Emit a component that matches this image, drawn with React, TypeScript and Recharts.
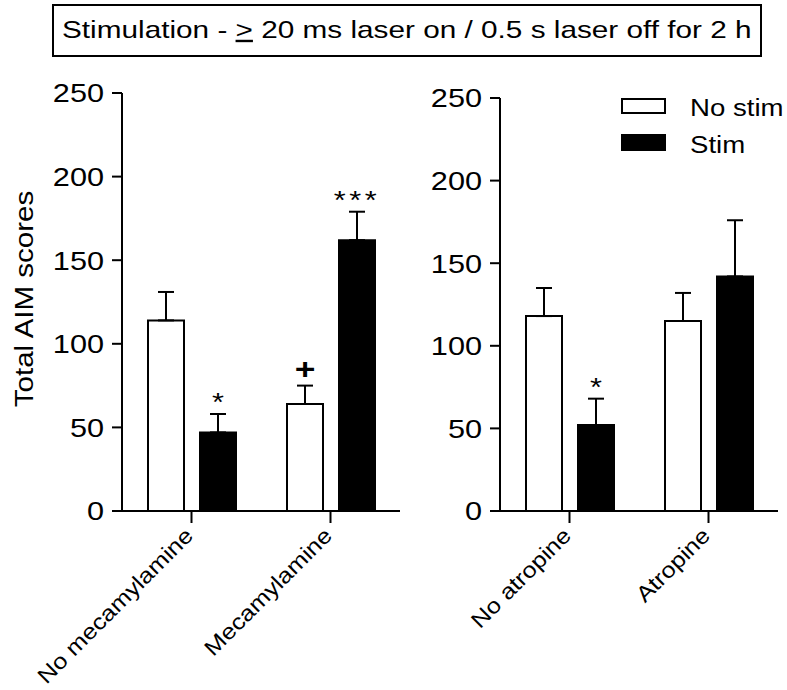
import React from 'react';
import { BarChart, Bar, XAxis, YAxis, ErrorBar, LabelList, Legend, Label } from 'recharts';

const FONT = '"Liberation Sans", Arial, Helvetica, sans-serif';
const WIDE = 1.18; // source text is a little wider than Arial

// --- data ---
const yTicks = [0, 50, 100, 150, 200, 250];
const seriesNames = ['No stim', 'Stim'];

const leftGroups = ['No mecamylamine', 'Mecamylamine'];
const leftNoStim = [114, 64];
const leftNoStimErr = [17, 11];
const leftStim = [47, 162];
const leftStimErr = [11, 17];
const leftNoStimMarks = ['', '+'];
const leftStimMarks = ['*', '***'];

const rightGroups = ['No atropine', 'Atropine'];
const rightNoStim = [118, 115];
const rightNoStimErr = [17, 17];
const rightStim = [52, 142];
const rightStimErr = [16, 34];
const rightNoStimMarks = ['', ''];
const rightStimMarks = ['*', ''];

const buildRows = (groups: string[], noStim: number[], noStimErr: number[], stim: number[], stimErr: number[]) =>
  groups.map((g, i) => ({
    group: g,
    noStim: noStim[i],
    noStimErr: [0, noStimErr[i]],
    stim: stim[i],
    stimErr: [0, stimErr[i]],
  }));

const YTick = ({ x, y, payload }: any) => (
  <g transform={`translate(${x},${y})`}>
    <text transform={`scale(${WIDE},1)`} textAnchor="end" dy="0.36em" fontSize={26} fontFamily={FONT} fill="#000">
      {payload.value}
    </text>
  </g>
);

const XTick = ({ x, y, payload }: any) => (
  <g transform={`translate(${x + 3},${y + 12}) rotate(-45)`}>
    <text transform="scale(1.15,1)" textAnchor="end" fontSize={22} fontFamily={FONT} fill="#000">
      {payload.value}
    </text>
  </g>
);

// significance marks sit just above the error bar cap
const markLabel = (values: number[], errs: number[], marks: string[]) => (props: any) => {
  const { x, y, width, height, index } = props;
  const mark = marks[index];
  if (!mark) return null;
  const errTop = y - (errs[index] / values[index]) * height;
  const isPlus = mark === '+';
  return (
    <g transform={`translate(${x + width / 2},${errTop - (isPlus ? 7 : 3)})`}>
      <text
        transform={`scale(${WIDE},1)`}
        textAnchor="middle"
        fontSize={isPlus ? 30 : 26}
        fontWeight={isPlus ? 'bold' : 'normal'}
        letterSpacing={mark.length > 1 ? 3 : 0}
        fontFamily={FONT}
        fill="#000"
      >
        {mark}
      </text>
    </g>
  );
};

const LegendBox = () => (
  <svg width={169} height={70}>
    <rect x={4} y={7} width={43} height={14} fill="#fff" stroke="#000" strokeWidth={2} />
    <rect x={4} y={43} width={43} height={15} fill="#000" stroke="#000" strokeWidth={2} />
    <g transform="translate(72,24)">
      <text transform="scale(1.15,1)" fontSize={24} fontFamily={FONT} fill="#000">{seriesNames[0]}</text>
    </g>
    <g transform="translate(72,61)">
      <text transform="scale(1.15,1)" fontSize={24} fontFamily={FONT} fill="#000">{seriesNames[1]}</text>
    </g>
  </svg>
);

const YTitle = ({ viewBox }: any) => (
  <g transform={`translate(${viewBox.x + 33},${viewBox.y + viewBox.height / 2 - 3}) rotate(-90)`}>
    <text transform={`scale(${WIDE},1)`} textAnchor="middle" fontSize={25} fontFamily={FONT} fill="#000">
      Total AIM scores
    </text>
  </g>
);

type PanelProps = {
  groups: string[];
  noStim: number[];
  noStimErr: number[];
  stim: number[];
  stimErr: number[];
  noStimMarks: string[];
  stimMarks: string[];
  left: number;
  width: number;
  top: number;
  right: number;
  axisWidth: number;
  yTitle?: boolean;
  legend?: boolean;
};

function Panel(p: PanelProps) {
  const rows = buildRows(p.groups, p.noStim, p.noStimErr, p.stim, p.stimErr);
  return (
    <div style={{ position: 'absolute', left: p.left, top: 0 }}>
      <BarChart
        width={p.width}
        height={690}
        data={rows}
        margin={{ top: p.top, right: p.right, left: 0, bottom: 0 }}
        barSize={36}
        barGap={16}
      >
        <XAxis
          dataKey="group"
          height={179}
          axisLine={{ stroke: '#000', strokeWidth: 2 }}
          tickLine={{ stroke: '#000', strokeWidth: 2 }}
          tickSize={12}
          tick={<XTick />}
          interval={0}
        />
        <YAxis
          width={p.axisWidth}
          domain={[0, 250]}
          ticks={yTicks}
          axisLine={{ stroke: '#000', strokeWidth: 2 }}
          tickLine={{ stroke: '#000', strokeWidth: 2 }}
          tickSize={10}
          tickMargin={8}
          tick={<YTick />}
        >
          {p.yTitle && <Label content={<YTitle />} />}
        </YAxis>
        {p.legend && (
          <Legend
            layout="vertical"
            align="center"
            verticalAlign="middle"
            content={<LegendBox />}
            wrapperStyle={{ left: 218, top: 92, width: 169, height: 70 }}
          />
        )}
        <Bar dataKey="noStim" name={seriesNames[0]} fill="#fff" stroke="#000" strokeWidth={2} isAnimationActive={false}>
          <ErrorBar dataKey="noStimErr" direction="y" width={8} stroke="#000" strokeWidth={2} />
          <LabelList content={markLabel(p.noStim, p.noStimErr, p.noStimMarks)} />
        </Bar>
        <Bar dataKey="stim" name={seriesNames[1]} fill="#000" stroke="#000" strokeWidth={2} isAnimationActive={false}>
          <ErrorBar dataKey="stimErr" direction="y" width={8} stroke="#000" strokeWidth={2} />
          <LabelList content={markLabel(p.stim, p.stimErr, p.stimMarks)} />
        </Bar>
      </BarChart>
    </div>
  );
}

export default function App() {
  return (
    <div style={{ position: 'absolute', left: 0, top: 0, width: 787, height: 690, background: '#fff', fontFamily: FONT }}>
      <svg width={787} height={70} style={{ position: 'absolute', left: 0, top: 0 }}>
        <rect x={53} y={5} width={708} height={51} fill="#fff" stroke="#000" strokeWidth={2} />
        <g transform="translate(62,38)">
          <text transform="scale(1.24,1)" fontSize={24} fontFamily={FONT} fill="#000">
            Stimulation - <tspan style={{ textDecoration: 'underline' }}>&gt;</tspan> 20 ms laser on / 0.5 s laser off for 2 h
          </text>
        </g>
      </svg>
      <Panel
        groups={leftGroups}
        noStim={leftNoStim}
        noStimErr={leftNoStimErr}
        stim={leftStim}
        stimErr={leftStimErr}
        noStimMarks={leftNoStimMarks}
        stimMarks={leftStimMarks}
        left={0}
        width={410}
        top={93}
        right={10}
        axisWidth={122}
        yTitle
      />
      <Panel
        groups={rightGroups}
        noStim={rightNoStim}
        noStimErr={rightNoStimErr}
        stim={rightStim}
        stimErr={rightStimErr}
        noStimMarks={rightNoStimMarks}
        stimMarks={rightStimMarks}
        left={400}
        width={387}
        top={98}
        right={9}
        axisWidth={100}
        legend
      />
    </div>
  );
}
